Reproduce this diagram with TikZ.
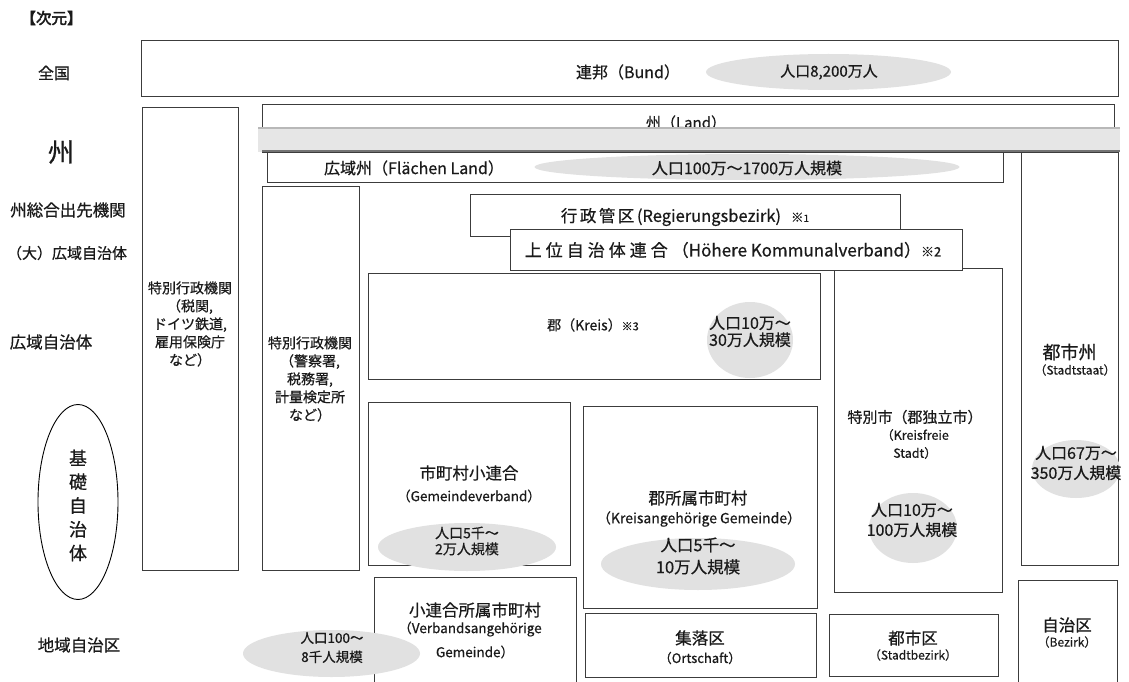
\documentclass[tikz,border=0pt]{standalone}
\usepackage{fontspec}
\setmainfont{Noto Sans CJK JP}[FakeBold=0.6]
\newfontfamily\jpbold{Noto Sans CJK JP}[FakeBold=3]
\usetikzlibrary{shapes.geometric}
\definecolor{boxc}{HTML}{3C3C3C}
\definecolor{popc}{HTML}{E1E1E1}
\definecolor{textc}{HTML}{1A1A1A}
\definecolor{bandc}{HTML}{E6E6E6}
\newcommand\fsz[2]{\fontsize{#1}{#2}\selectfont}
\makeatletter
\newcommand\spcd[2]{\def\my@gap{#1}\my@spc#2\relax}
\def\my@spc#1{\ifx\relax#1\else#1\kern\my@gap\expandafter\my@spc\fi}
\makeatother
\tikzset{
  box/.style={draw=boxc, line width=0.8pt, fill=white, inner sep=0pt, rectangle},
  pop/.style={ellipse, fill=popc, draw=none, inner sep=0pt},
  txt/.style={inner sep=0pt, align=center, text=textc},
}
\begin{document}
\begin{tikzpicture}[x=1pt,y=-1pt]
\useasboundingbox (0,0) rectangle (1129,682);
\fill[white] (0,0) rectangle (1129,682);

% left column labels
\node[txt,font=\jpbold\fsz{15.5}{18}] (jigen) at (51.5,18) {【次元】};
\node[txt,font=\fsz{16}{19}] (lzenkoku) at (54,73) {全国};
\node[txt,font=\fsz{26}{30}] (lshu) at (61,152) {州};
\node[txt,font=\fsz{16.5}{19}] (ldep) at (68,210) {州総合出先機関};
\node[txt,font=\fsz{15}{19}] (ldai) at (67,253) {（大）広域自治体};
\node[txt,font=\fsz{16.5}{19}] (lkouiki) at (51,342) {広域自治体};
\node[txt,font=\fsz{16.5}{19}] (lchiiki) at (79,645) {地域自治区};
\node[draw=black, line width=0.9pt, ellipse, minimum width=80pt, minimum height=195pt, inner sep=0pt] (kiso) at (78,502) {};
\node[txt,font=\fsz{18}{23.75}] (kisot) at (78,505.5) {基\\礎\\自\\治\\体};

% boxes
\node[box, minimum width=977pt, minimum height=56pt] (bund) at (629.5,68) {};
\node[box, minimum width=852pt, minimum height=48pt] (land) at (688,128) {};
\node[box, minimum width=736pt, minimum height=30pt] (kouiki) at (635,167) {};
\node[box, minimum width=96pt, minimum height=463pt] (tb1) at (190,338.5) {};
\node[box, minimum width=97pt, minimum height=384pt] (tb2) at (310.5,378) {};
\node[box, minimum width=97pt, minimum height=413pt] (tstaat) at (1069.5,358.5) {};
\node[box, minimum width=430pt, minimum height=42pt] (gyosei) at (685,215) {};
\node[box, minimum width=168pt, minimum height=324pt] (kfrei) at (918,430) {};
\node[box, minimum width=452pt, minimum height=41pt] (joui) at (736,249.5) {};
\node[box, minimum width=452pt, minimum height=106pt] (kreis) at (594,326) {};
\node[box, minimum width=99pt, minimum height=120pt] (bezirk) at (1067.5,640) {};
\node[box, minimum width=169pt, minimum height=62pt] (sbezirk) at (913.5,645) {};
\node[box, minimum width=202pt, minimum height=163pt] (gverb) at (469,483.5) {};
\node[box, minimum width=234pt, minimum height=202pt] (kgem) at (700,507) {};
\node[box, minimum width=231pt, minimum height=64pt] (ortsch) at (700.5,645) {};
\node[box, minimum width=202pt, minimum height=123pt] (vgem) at (475,638.5) {};

% Land title and the grey band over it
\node[txt,font=\fsz{15}{18}] (landt) at (686,122.5) {州（Land）};
\fill[bandc] (258,127) rectangle (1120,152);
\draw[black!28, line width=1.8pt] (258,128) -- (1120,128);
\draw[black!55, line width=2pt] (262,151) -- (1120,151);

% population ellipses
\node[pop, minimum width=245pt, minimum height=36pt] (ebund) at (828.5,72) {};
\node[pop, minimum width=425pt, minimum height=26pt] (eland) at (747,167) {};
\node[pop, minimum width=86pt, minimum height=76pt] (ekreis) at (750,340) {};
\node[pop, minimum width=88pt, minimum height=70pt] (ekf) at (913,528) {};
\node[pop, minimum width=88pt, minimum height=58pt] (ets) at (1076,469) {};
\node[pop, minimum width=178pt, minimum height=48pt] (esr) at (467,547) {};
\node[pop, minimum width=194pt, minimum height=52pt] (eka) at (698,564) {};
\node[pop, minimum width=177pt, minimum height=47pt] (evb) at (331.5,653.5) {};

% texts
\node[txt,font=\fsz{16}{19}] (bundt) at (628,72) {連邦（Bund）};
\node[txt,font=\fsz{15}{18}] (bundp) at (829,72) {人口8,200万人};
\node[txt,font=\fsz{16}{19}] (kouikit) at (414,168) {広域州（Flächen Land）};
\node[txt,font=\fsz{16}{19}] (landp) at (747,168) {人口100万～1700万人規模};
\node[txt,font=\fsz{16.5}{19}] (gyoseit) at (685,217) {\spcd{2.5pt}{行政管区}(Regierungsbezirk)\hspace{10pt}{\fsz{12.5}{14}※}{\fsz{10}{12}1}};
\node[txt,font=\fsz{17}{19}] (jouit) at (733,250) {\spcd{4pt}{上位自治体連合}（Höhere Kommunalverband）{\fsz{13}{15}※2}};
\node[txt,font=\fsz{14}{16}] (kreist) at (593,325) {郡（Kreis）{\fsz{11}{13}※3}};
\node[txt,font=\fsz{16}{17}] (kreisp) at (750,331.5) {人口10万～\\30万人規模};
\node[txt,font=\fsz{14}{18}] (tb1t) at (190,324) {特別行政機関\\（税関,\\ドイツ鉄道,\\雇用保険庁\\など）};
\node[txt,font=\fsz{14}{18}] (tb2t) at (310,379) {特別行政機関\\（警察署,\\税務署,\\計量検定所\\など）};
\node[txt,font=\fsz{15}{18}] (kft) at (915,417) {特別市（郡独立市）};
\node[txt,font=\fsz{12.5}{18}] (kfs) at (915,444) {（Kreisfreie\\Stadt）};
\node[txt,font=\fsz{16}{20}] (kfp) at (912,520) {人口10万～\\100万人規模};
\node[txt,font=\fsz{18}{21}] (tst) at (1069.5,352) {都市州};
\node[txt,font=\fsz{12}{14}] (tss) at (1075,370) {（Stadtstaat）};
\node[txt,font=\fsz{16}{20}] (tsp) at (1076,463) {人口67万～\\350万人規模};
\node[txt,font=\fsz{16.5}{19}] (bzt) at (1067,625) {自治区};
\node[txt,font=\fsz{12}{14}] (bzs) at (1067,642) {（Bezirk）};
\node[txt,font=\fsz{16.5}{19}] (sbt) at (913,638) {都市区};
\node[txt,font=\fsz{12}{14}] (sbs) at (913,655) {（Stadtbezirk）};
\node[txt,font=\fsz{16.5}{19}] (gvt) at (469,473) {市町村小連合};
\node[txt,font=\fsz{13.5}{16}] (gvs) at (469,496) {（Gemeindeverband）};
\node[txt,font=\fsz{14}{16}] (gvp) at (467,541) {人口5千～\\2万人規模};
\node[txt,font=\fsz{16.5}{19}] (kgt) at (698,498) {郡所属市町村};
\node[txt,font=\fsz{14}{16}] (kgs) at (699,519) {（Kreisangehörige Gemeinde）};
\node[txt,font=\fsz{16.5}{22}] (kgp) at (698,556) {人口5千～\\10万人規模};
\node[txt,font=\fsz{16.5}{19}] (ost) at (700,638) {集落区};
\node[txt,font=\fsz{13}{16}] (oss) at (700,658) {（Ortschaft）};
\node[txt,font=\fsz{16.5}{19}] (vgt) at (475,610) {小連合所属市町村};
\node[txt,font=\fsz{13.5}{16}] (vgs1) at (470,629) {（Verbandsangehörige};
\node[txt,font=\fsz{13.5}{16}] (vgs2) at (475,652) {Gemeinde）};
\node[txt,font=\fsz{13.5}{19}] (vgp) at (332,647.5) {人口100～\\8千人規模};
\end{tikzpicture}
\end{document}
